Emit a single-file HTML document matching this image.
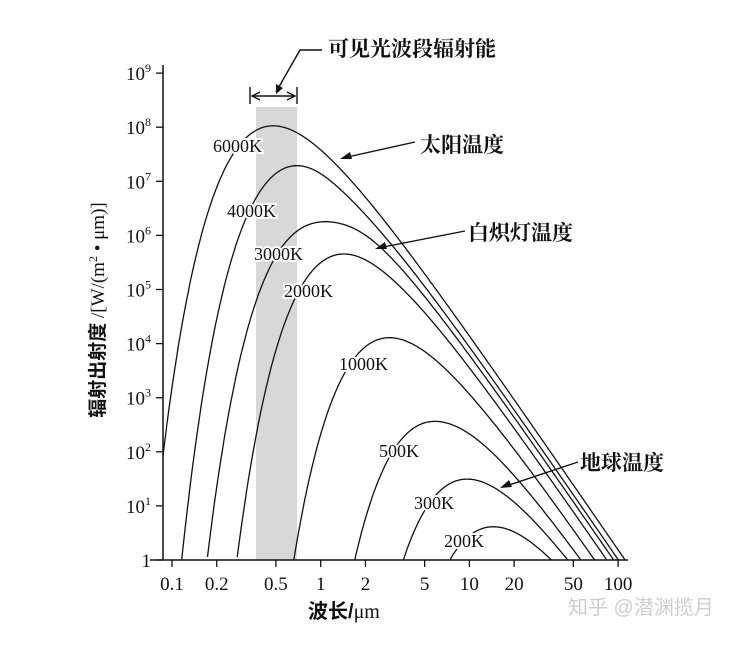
<!DOCTYPE html>
<html><head><meta charset="utf-8"><style>
body{margin:0;background:#fff;}
svg text{font-family:"Liberation Serif","Noto Serif CJK SC",serif;fill:#111;}
.cj{font-family:"Liberation Sans","Noto Sans CJK SC",sans-serif;font-weight:bold;}
.tl text{stroke:#fff;stroke-width:4;paint-order:stroke;}
</style></head><body>
<svg id="s" width="748" height="640" viewBox="0 0 748 640" xmlns="http://www.w3.org/2000/svg">
<rect x="256" y="107" width="41" height="453" fill="#d8d8d8"/>
<g id="curves" fill="none" stroke="#111" stroke-width="1.3"></g>
<g stroke="#111" stroke-width="1.5" fill="none">
<line x1="163" y1="65" x2="163" y2="560"/>
<line x1="150" y1="560" x2="628" y2="560"/>
</g>
<g id="ticks" stroke="#111" stroke-width="1.3"></g>
<g id="labels" font-size="19"></g>
<g stroke="#111" stroke-width="1.4" fill="none">
<line x1="250" y1="87" x2="250" y2="104"/><line x1="297" y1="87" x2="297" y2="104"/>
<line x1="252" y1="96" x2="295" y2="96"/>
<polyline points="260,92 252,96 260,100"/><polyline points="287,92 295,96 287,100"/>
<polyline points="322,50 300,50 276,92"/>
<line x1="415" y1="142" x2="343" y2="158"/>
<line x1="465" y1="231" x2="378" y2="248"/>
<line x1="578" y1="462" x2="503" y2="487"/>
</g>
<g fill="#111">
<polygon points="276,94 276,84 283,88"/>
<polygon points="340,159 350,152 352,159"/>
<polygon points="375,249 385,242 387,249"/>
<polygon points="500,488 509,480 512,487"/>
</g>
<g font-size="21" class="cj">
<text x="328" y="56">可见光波段辐射能</text>
<text x="420" y="152">太阳温度</text>
<text x="468" y="240">白炽灯温度</text>
<text x="580" y="470">地球温度</text>
</g>
<g font-size="18" class="tl">
<text x="213" y="152">6000K</text>
<text x="227" y="217">4000K</text>
<text x="254" y="260">3000K</text>
<text x="284" y="297">2000K</text>
<text x="339" y="370">1000K</text>
<text x="379" y="457">500K</text>
<text x="414" y="509">300K</text>
<text x="444" y="547">200K</text>
</g>
<text x="308" y="618" font-size="20" class="cj">波长/<tspan font-family="Liberation Serif" font-weight="normal">μm</tspan></text>
<text transform="translate(104,310) rotate(-90)" font-size="19" text-anchor="middle"><tspan class="cj">辐射出射度</tspan> /[W/(m<tspan font-size="12" dy="-7">2</tspan><tspan dy="7"> • μm)]</tspan></text>
<text x="568" y="614" font-size="20" fill="#cfcfcf" style="fill:#cfcfcf;font-family:'Liberation Sans','Noto Sans CJK SC',sans-serif">知乎 @潜渊揽月</text>
</svg>
<script>
var NS="http://www.w3.org/2000/svg";
function X(l){return 172+148.7*(Math.log10(l)+1);}
function Y(v){return 560-54.1*v;}
function el(t,a,p){var e=document.createElementNS(NS,t);for(var k in a)e.setAttribute(k,a[k]);p.appendChild(e);return e;}
var cg=document.getElementById('curves');
var off={6000:0.03,4000:0.2,3000:-0.3,2000:0.05,1000:0,500:-0.05,300:0,200:0};
[6000,4000,3000,2000,1000,500,300,200].forEach(function(T){
 var d="",started=false,lp=2898/T;
 for(var i=0;i<=1200;i++){
  var lg=-1.1+i*3.2/1200,l=Math.pow(10,lg);
  var B=3.742e8/Math.pow(l,5)/(Math.exp(14388/(l*T))-1);
  var r=l/lp;var w=1/(1+Math.pow(r/1.5,4));
  var v=Math.log10(B)+off[T]*w;var x=X(l),y=Y(v);
  if(x<163||v<0||x>630){if(started&&v<0&&lg>0){d+="L"+x.toFixed(1)+","+560;break;}continue;}
  if(!started){d+="M"+x.toFixed(1)+","+(v<0.05?560:y.toFixed(1));started=true;}else d+="L"+x.toFixed(1)+","+y.toFixed(1);
 }
 el('path',{d:d},cg);
});
var tg=document.getElementById('ticks'),lb=document.getElementById('labels');
[[0.1,"0.1"],[0.2,"0.2"],[0.5,"0.5"],[1,"1"],[2,"2"],[5,"5"],[10,"10"],[20,"20"],[50,"50"],[100,"100"]].forEach(function(t){
 var x=X(t[0]);el('line',{x1:x,y1:560,x2:x,y2:567},tg);
 var tx=el('text',{x:x,y:590,'text-anchor':'middle'},lb);tx.textContent=t[1];
});
for(var k=0;k<=9;k++){
 var y=Y(k);el('line',{x1:156,y1:y,x2:163,y2:y},tg);
 var tx=el('text',{x:151,y:y+7,'text-anchor':'end'},lb);
 if(k==0)tx.textContent="1";else{tx.textContent="10";var s=el('tspan',{'font-size':'12',dy:'-8'},tx);s.textContent=k;}
}
</script>
</body></html>
